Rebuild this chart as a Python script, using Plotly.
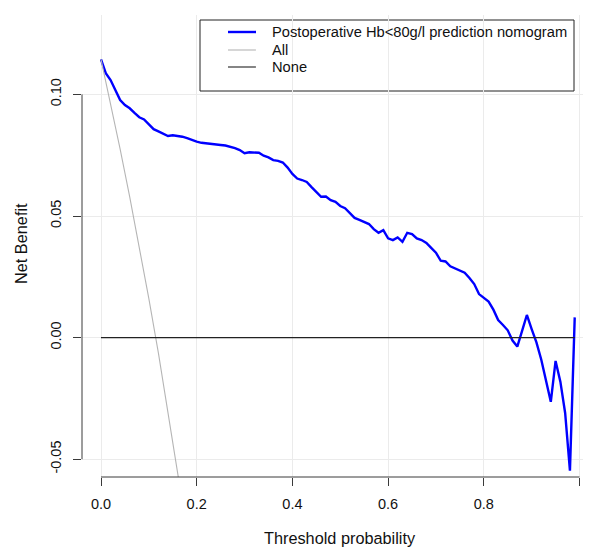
import plotly.graph_objects as go

# ---- data ----
threshold = [round(i * 0.01, 2) for i in range(100)]
nomogram_nb = [
    0.1144, 0.1087, 0.1059, 0.1015, 0.0977, 0.0956, 0.0943, 0.0924, 0.0906, 0.0897,
    0.0876, 0.0857, 0.0848, 0.0837, 0.0829, 0.0832, 0.0830, 0.0826, 0.0820, 0.0812,
    0.0806, 0.0801, 0.0798, 0.0796, 0.0794, 0.0792, 0.0790, 0.0785, 0.0779, 0.0771,
    0.0758, 0.0762, 0.0762, 0.0760, 0.0748, 0.0741, 0.0730, 0.0727, 0.0720, 0.0699,
    0.0673, 0.0654, 0.0648, 0.0640, 0.0619, 0.0599, 0.0579, 0.0580, 0.0565, 0.0558,
    0.0541, 0.0532, 0.0512, 0.0492, 0.0484, 0.0477, 0.0467, 0.0446, 0.0431, 0.0442,
    0.0408, 0.0401, 0.0412, 0.0394, 0.0431, 0.0426, 0.0408, 0.0401, 0.0389, 0.0369,
    0.0349, 0.0316, 0.0313, 0.0293, 0.0285, 0.0278, 0.0267, 0.0245, 0.0220, 0.0179,
    0.0165, 0.0148, 0.0115, 0.0072, 0.0052, 0.0030, -0.0012, -0.0037, 0.0028, 0.0093,
    0.0035, -0.0020, -0.0090, -0.0175, -0.0264, -0.0096, -0.0181, -0.0310, -0.0547, 0.0083,
]
all_x = [0.00, 0.02, 0.04, 0.06, 0.08, 0.10, 0.12, 0.14, 0.16, 0.18, 0.20]
all_nb = [0.1144, 0.0963, 0.0775, 0.0579, 0.0374, 0.0160, -0.0064, -0.0298, -0.0543, -0.0800, -0.1070]
none_x = [0.00, 0.99]
none_nb = [0.0, 0.0]

x_ticks = [0.0, 0.2, 0.4, 0.6, 0.8, 1.0]
x_ticklabels = ["0.0", "0.2", "0.4", "0.6", "0.8", "1.0"]
y_ticks = [-0.05, 0.00, 0.05, 0.10]
y_ticklabels = ["-0.05", "0.00", "0.05", "0.10"]

names = ["Postoperative Hb<80g/l prediction nomogram", "All", "None"]
colors = ["#0000FF", "#B5B5B5", "#222222"]
widths = [2.4, 1.1, 1.1]

FONT = "Liberation Sans, Arial, Helvetica, sans-serif"
AXIS_COL = "#3a3a3a"
TXT = "#111111"

fig = go.Figure()
fig.add_trace(go.Scatter(x=threshold, y=nomogram_nb, mode="lines", name=names[0],
                         line=dict(color=colors[0], width=widths[0])))
fig.add_trace(go.Scatter(x=all_x, y=all_nb, mode="lines", name=names[1],
                         line=dict(color=colors[1], width=widths[1])))
fig.add_trace(go.Scatter(x=none_x, y=none_nb, mode="lines", name=names[2],
                         line=dict(color=colors[2], width=widths[2])))

# plot area in pixels: x 82..583, y 15..477
PL, PR, PT, PB = 82, 583, 15, 477
def px(x):
    return (x - PL) / (PR - PL)
def py(y):
    return (PB - y) / (PB - PT)

shapes = [
    dict(type="line", xref="paper", yref="y", x0=0, x1=0,
         y0=y_ticks[0], y1=y_ticks[-1], line=dict(color=AXIS_COL, width=1)),
    dict(type="line", xref="x", yref="paper", x0=x_ticks[0], x1=x_ticks[-1],
         y0=0, y1=0, line=dict(color=AXIS_COL, width=1)),
    # legend box
    dict(type="rect", xref="paper", yref="paper", x0=px(200), x1=px(574),
         y0=py(91), y1=py(20), fillcolor="white", line=dict(color="#222222", width=1),
         layer="below"),
]
annotations = [
    dict(text="Threshold probability", xref="x", yref="paper", x=0.5, y=0,
         xanchor="center", yanchor="middle", yshift=-61, showarrow=False,
         font=dict(family=FONT, size=16.3, color=TXT)),
    dict(text="Net Benefit", xref="paper", yref="paper", x=0, y=0.5,
         xanchor="center", yanchor="middle", xshift=-61, yshift=2, textangle=-90,
         showarrow=False, font=dict(family=FONT, size=16.3, color=TXT)),
]
row_y = [32, 50, 67]
for name, col, w, ry in zip(names, colors, widths, row_y):
    shapes.append(dict(type="line", xref="paper", yref="paper", x0=px(228), x1=px(256),
                       y0=py(ry), y1=py(ry), line=dict(color=col, width=w)))
    annotations.append(dict(text=name, xref="paper", yref="paper", x=px(270), y=py(ry),
                            xanchor="left", yanchor="middle", showarrow=False,
                            font=dict(family=FONT, size=14.7, color=TXT)))

fig.update_layout(
    width=589, height=548,
    margin=dict(l=PL, r=589 - PR, t=PT, b=548 - PB),
    paper_bgcolor="white", plot_bgcolor="white",
    font=dict(family=FONT, color=TXT),
    showlegend=False,
    xaxis=dict(range=[-0.0397, 1.0073], tickvals=x_ticks, ticktext=x_ticklabels,
               showgrid=True, gridcolor="#EBEBEB", gridwidth=1, zeroline=False,
               showline=False, ticks="outside", ticklen=8, tickcolor=AXIS_COL, tickwidth=1,
               tickfont=dict(family=FONT, size=14.5, color=TXT),
               ticklabelstandoff=6),
    yaxis=dict(range=[-0.05732, 0.13265], tickvals=y_ticks, ticktext=y_ticklabels,
               showgrid=True, gridcolor="#EBEBEB", gridwidth=1, zeroline=False,
               showline=False, ticks="outside", ticklen=8, tickcolor=AXIS_COL, tickwidth=1,
               tickangle=-90,
               tickfont=dict(family=FONT, size=14.5, color=TXT),
               ticklabelstandoff=6),
    shapes=shapes,
    annotations=annotations,
)

fig.write_html("out.html")
